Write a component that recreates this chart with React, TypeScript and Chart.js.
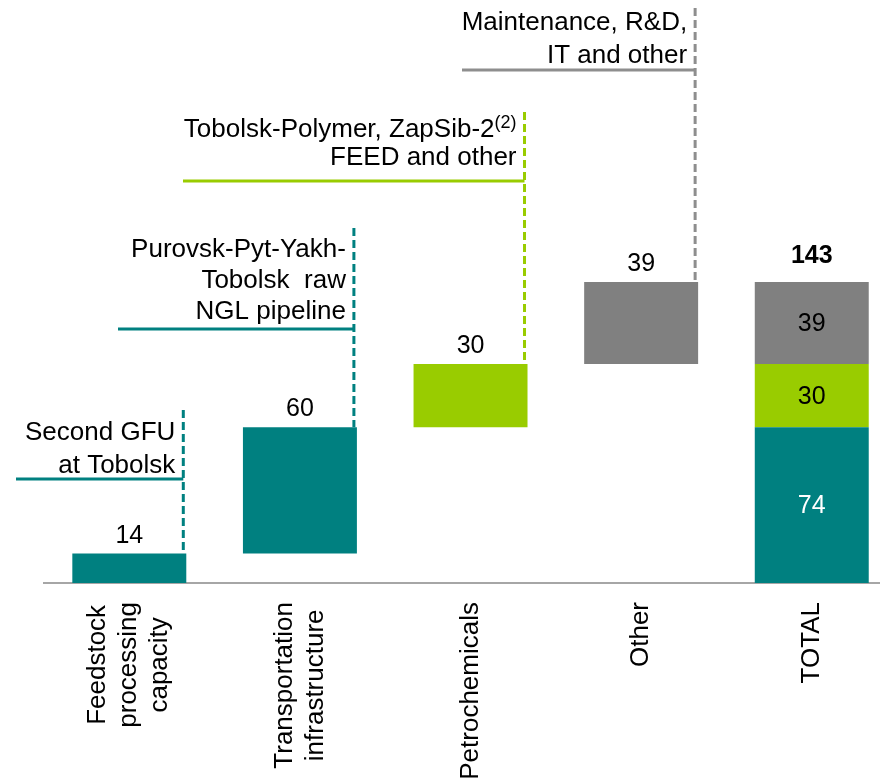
import React, { useEffect, useRef } from "react";
import { Chart, registerables } from "chart.js";

Chart.register(...registerables);

// ---- data ----
const categories: string[][] = [
  ["Feedstock", "processing", "capacity"],
  ["Transportation", "infrastructure"],
  ["Petrochemicals"],
  ["Other"],
  ["TOTAL"],
];
const stepValues = [14, 60, 30, 39];
const totalParts = [74, 30, 39]; // bottom to top
const totalValue = 143;
const annotationTexts: string[][] = [
  ["Second GFU", "at Tobolsk"],
  ["Purovsk-Pyt-Yakh-", "Tobolsk  raw", "NGL pipeline"],
  ["Tobolsk-Polymer, ZapSib-2^(2)", "FEED and other"],
  ["Maintenance, R&D,", "IT and other"],
];

// ---- styles / layout ----
const TEAL = "#008080";
const GREEN = "#99CC00";
const GRAY = "#808080";
const stepColors = [TEAL, TEAL, GREEN, GRAY];
const totalColors = [TEAL, GREEN, GRAY];
const totalLabelColors = ["#ffffff", "#000000", "#000000"];
const annotationColors = [TEAL, TEAL, GREEN, "#8E8E8E"];
const annotationLayout = [
  { top: 410, lineY: 479, lastBaseline: 473, lineHeight: 33, left: 16 },
  { top: 228, lineY: 329, lastBaseline: 319, lineHeight: 31, left: 118 },
  { top: 112, lineY: 181, lastBaseline: 165, lineHeight: 28, left: 183 },
  { top: 8, lineY: 70, lastBaseline: 63, lineHeight: 33, left: 462 },
];
const FONT = '"Liberation Sans", Arial, sans-serif';

export default function App() {
  const ref = useRef<HTMLCanvasElement | null>(null);

  useEffect(() => {
    if (!ref.current) return;
    const starts: number[] = [];
    let acc = 0;
    stepValues.forEach((v) => {
      starts.push(acc);
      acc += v;
    });
    const totalStarts: number[] = [];
    let acc2 = 0;
    totalParts.forEach((v) => {
      totalStarts.push(acc2);
      acc2 += v;
    });

    const datasets: any[] = [
      {
        label: "steps",
        data: stepValues.map((v, i) => ({ x: i, y: [starts[i], starts[i] + v] })),
        backgroundColor: stepColors,
      },
      ...totalParts.map((v, j) => ({
        label: "total" + j,
        data: [{ x: categories.length - 1, y: [totalStarts[j], totalStarts[j] + v] }],
        backgroundColor: totalColors[j],
      })),
    ];

    const drawPlugin = {
      id: "waterfallDecor",
      afterDatasetsDraw(chart: any) {
        const ctx = chart.ctx as CanvasRenderingContext2D;
        const area = chart.chartArea;
        const xs = chart.scales.x;
        ctx.save();

        // step value labels
        const stepMeta = chart.getDatasetMeta(0);
        ctx.font = `25px ${FONT}`;
        ctx.fillStyle = "#000";
        ctx.textAlign = "center";
        ctx.textBaseline = "alphabetic";
        stepMeta.data.forEach((el: any, i: number) => {
          const top = Math.min(el.y, el.base);
          ctx.fillText(String(stepValues[i]), el.x, top - 11);
        });

        // total parts
        totalParts.forEach((v, j) => {
          const el: any = chart.getDatasetMeta(j + 1).data[0];
          const top = Math.min(el.y, el.base);
          const bot = Math.max(el.y, el.base);
          ctx.fillStyle = totalLabelColors[j];
          ctx.textBaseline = "middle";
          ctx.fillText(String(v), el.x, (top + bot) / 2 + 1);
        });
        const lastEl: any = chart.getDatasetMeta(totalParts.length).data[0];
        ctx.font = `bold 25px ${FONT}`;
        ctx.fillStyle = "#000";
        ctx.textBaseline = "alphabetic";
        ctx.fillText(String(totalValue), lastEl.x, Math.min(lastEl.y, lastEl.base) - 19);

        // annotations
        stepMeta.data.forEach((el: any, i: number) => {
          const lay = annotationLayout[i];
          const color = annotationColors[i];
          const dashX = el.x + el.width / 2 - 3;
          const barTop = Math.min(el.y, el.base);
          ctx.strokeStyle = color;
          ctx.lineWidth = 3;
          ctx.setLineDash([8, 4]);
          ctx.beginPath();
          ctx.moveTo(dashX, lay.top);
          ctx.lineTo(dashX, barTop);
          ctx.stroke();
          ctx.setLineDash([]);
          ctx.beginPath();
          ctx.moveTo(lay.left, lay.lineY);
          ctx.lineTo(dashX, lay.lineY);
          ctx.stroke();

          const lines = annotationTexts[i];
          const right = dashX - 8;
          ctx.fillStyle = "#000";
          ctx.textBaseline = "alphabetic";
          ctx.textAlign = "right";
          lines.forEach((line, k) => {
            const y = lay.lastBaseline - (lines.length - 1 - k) * lay.lineHeight;
            const parts = line.split("^");
            if (parts.length > 1) {
              ctx.font = `18px ${FONT}`;
              const supW = ctx.measureText(parts[1]).width;
              ctx.fillText(parts[1], right, y - 9);
              ctx.font = `26px ${FONT}`;
              ctx.fillText(parts[0], right - supW, y);
            } else {
              ctx.font = `26px ${FONT}`;
              ctx.fillText(line, right, y);
            }
          });
        });

        // x-axis labels (rotated, centered lines)
        ctx.font = `26px ${FONT}`;
        ctx.fillStyle = "#000";
        categories.forEach((lines, i) => {
          const x = xs.getPixelForValue(i);
          const maxW = Math.max(...lines.map((l) => ctx.measureText(l).width));
          const lh = 31;
          ctx.save();
          ctx.translate(x, area.bottom + 19 + maxW / 2);
          ctx.rotate(-Math.PI / 2);
          ctx.textAlign = "center";
          ctx.textBaseline = "middle";
          lines.forEach((l, k) => {
            ctx.fillText(l, 0, (k - (lines.length - 1) / 2) * lh);
          });
          ctx.restore();
        });

        ctx.restore();
      },
    };

    const chart = new Chart(ref.current, {
      type: "bar",
      data: { datasets },
      options: {
        animation: false,
        responsive: false,
        devicePixelRatio: 1,
        layout: { padding: { left: 44, right: 0, top: 0, bottom: 199 } },
        datasets: {
          bar: {
            grouped: false,
            borderWidth: 0,
            barPercentage: 0.668,
            categoryPercentage: 1,
          } as any,
        },
        plugins: {
          legend: { display: false },
          tooltip: { enabled: false },
          title: { display: false },
        },
        scales: {
          x: {
            type: "linear",
            offset: false,
            min: -0.5,
            max: 4.4,
            ticks: { display: false },
            grid: { display: false, drawTicks: false },
            border: { display: true, color: "#A6A6A6", width: 2 },
            afterBuildTicks: (s: any) => {
              s.ticks = categories.map((_, i) => ({ value: i }));
            },
            afterFit: (s: any) => {
              s.height = 0;
            },
          },
          y: {
            display: false,
            min: 0,
            max: 277,
          },
        },
      } as any,
      plugins: [drawPlugin],
    });
    return () => chart.destroy();
  }, []);

  return (
    <div style={{ position: "fixed", left: 0, top: 0, width: 880, height: 782, background: "#fff" }}>
      <canvas ref={ref} width={880} height={782} style={{ display: "block", width: 880, height: 782 }} />
    </div>
  );
}
